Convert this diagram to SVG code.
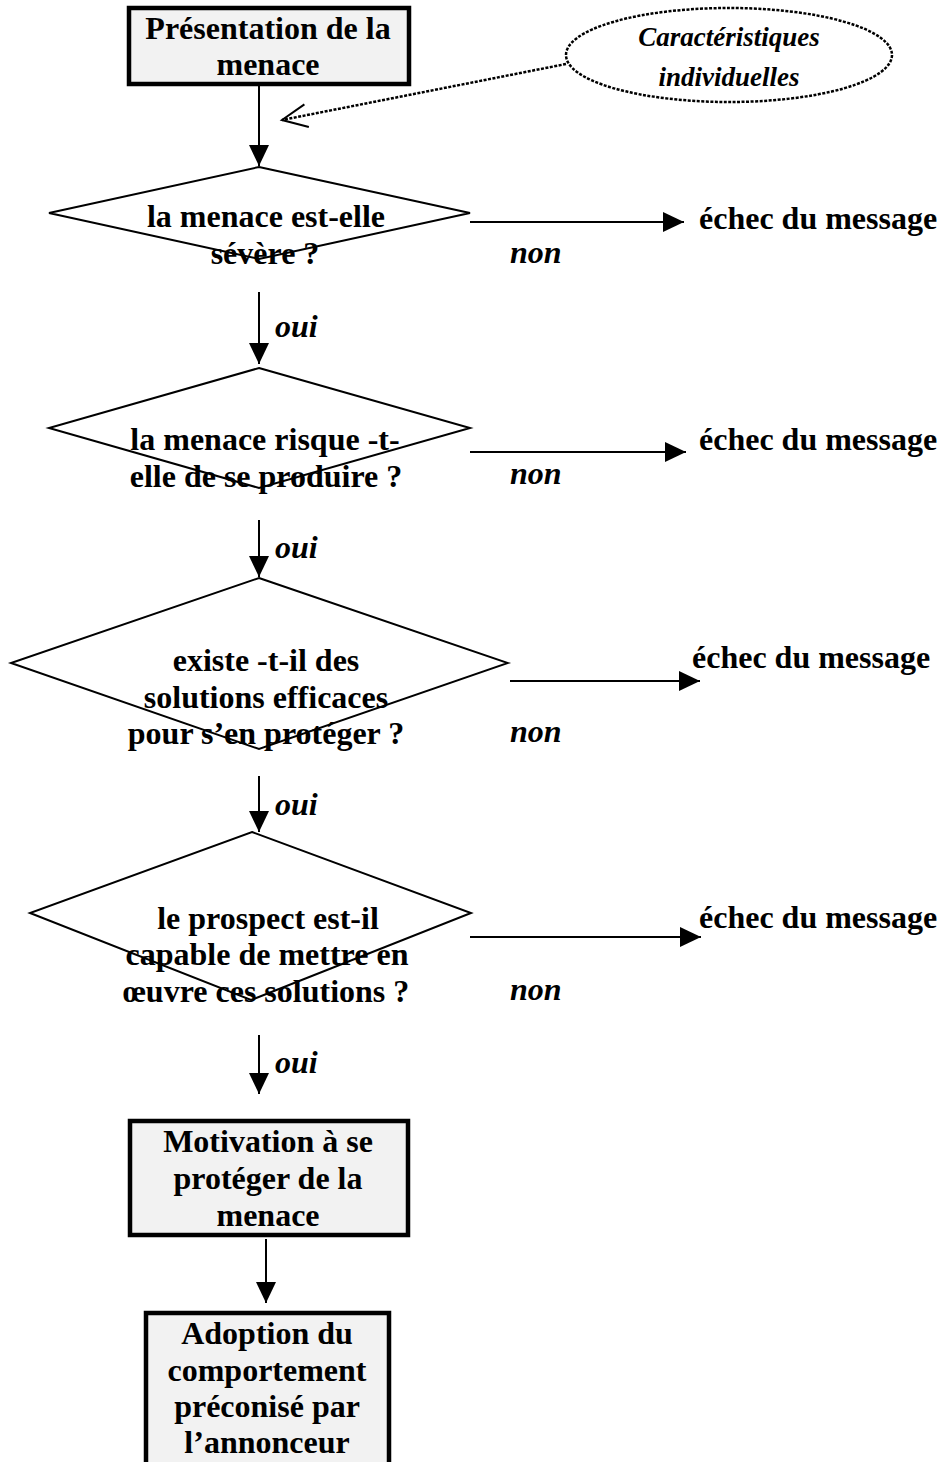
<svg xmlns="http://www.w3.org/2000/svg" width="940" height="1462" viewBox="0 0 940 1462">
<style>
.t{font-family:"Liberation Serif","Times New Roman",serif;font-weight:bold;font-size:32px;fill:#000}
.c{text-anchor:middle}
.i{font-style:italic}
.box{fill:#f2f2f2;stroke:#000;stroke-width:4.5}
.dia{fill:none;stroke:#000;stroke-width:2}
.ln{stroke:#000;stroke-width:2;fill:none}
.dot{stroke:#000;stroke-width:2.5;fill:none;stroke-dasharray:3 1.5}
</style>
<defs>
<marker id="ah" markerUnits="userSpaceOnUse" markerWidth="22" markerHeight="20" refX="21" refY="10" orient="auto" viewBox="0 0 22 20">
<path d="M0,0 L21,10 L0,20 z" fill="#000"/>
</marker>
<marker id="oa" markerUnits="userSpaceOnUse" markerWidth="30" markerHeight="30" refX="0" refY="0" orient="auto" overflow="visible" viewBox="-30 -15 30 30">
<path d="M-25,-12 L0,0 L-25,11" fill="none" stroke="#000" stroke-width="2"/>
</marker>
</defs>

<g id="connectors">
<line class="ln" x1="259" y1="86" x2="259" y2="166" marker-end="url(#ah)"/>
<path class="dot" d="M566,64 L282,120" marker-end="url(#oa)"/>
<line class="ln" x1="470" y1="222" x2="684" y2="222" marker-end="url(#ah)"/>
<line class="ln" x1="259" y1="292" x2="259" y2="364" marker-end="url(#ah)"/>
<line class="ln" x1="470" y1="452" x2="686" y2="452" marker-end="url(#ah)"/>
<line class="ln" x1="259" y1="520" x2="259" y2="577" marker-end="url(#ah)"/>
<line class="ln" x1="510" y1="681" x2="700" y2="681" marker-end="url(#ah)"/>
<line class="ln" x1="259" y1="776" x2="259" y2="832" marker-end="url(#ah)"/>
<line class="ln" x1="470" y1="937" x2="701" y2="937" marker-end="url(#ah)"/>
<line class="ln" x1="259" y1="1035" x2="259" y2="1094" marker-end="url(#ah)"/>
<line class="ln" x1="266" y1="1239" x2="266" y2="1303" marker-end="url(#ah)"/>
<text class="t i" x="510" y="263">non</text>
<text class="t i" x="275" y="337">oui</text>
<text class="t i" x="510" y="484">non</text>
<text class="t i" x="275" y="558">oui</text>
<text class="t i" x="510" y="742">non</text>
<text class="t i" x="275" y="815">oui</text>
<text class="t i" x="510" y="1000">non</text>
<text class="t i" x="275" y="1073">oui</text>
</g>

<g id="presentation">
<rect class="box" x="129" y="8" width="280" height="76"/>
<text class="t c" x="268" y="39">Présentation de la</text>
<text class="t c" x="268" y="75">menace</text>
</g>

<g id="caracteristiques">
<ellipse class="dot" cx="729" cy="55" rx="163" ry="47"/>
<text class="t c i" style="font-size:27px" x="729" y="46">Caractéristiques</text>
<text class="t c i" style="font-size:27px" x="729" y="86">individuelles</text>
</g>

<g id="q1">
<polygon class="dia" points="259,167 470,213 259,259 49,213"/>
<text class="t c" x="266" y="227">la menace est-elle</text>
<text class="t c" x="265" y="264">sévère ?</text>
</g>
<g id="echec1"><text class="t" x="699" y="229">échec du message</text></g>

<g id="q2">
<polygon class="dia" points="259,368 470,428 259,488 49,428"/>
<text class="t c" x="265" y="450">la menace risque -t-</text>
<text class="t c" x="266" y="487">elle de se produire ?</text>
</g>
<g id="echec2"><text class="t" x="699" y="450">échec du message</text></g>

<g id="q3">
<polygon class="dia" points="259,578 508,663 259,749 11,663"/>
<text class="t c" x="266" y="671">existe -t-il des</text>
<text class="t c" x="266" y="708">solutions efficaces</text>
<text class="t c" x="266" y="744">pour s’en protéger ?</text>
</g>
<g id="echec3"><text class="t" x="692" y="668">échec du message</text></g>

<g id="q4">
<polygon class="dia" points="252,832 471,913 251,1000 30,913"/>
<text class="t c" x="268" y="929">le prospect est-il</text>
<text class="t c" x="267" y="965">capable de mettre en</text>
<text class="t c" x="266" y="1002">œuvre ces solutions ?</text>
</g>
<g id="echec4"><text class="t" x="699" y="928">échec du message</text></g>

<g id="motivation">
<rect class="box" x="130" y="1121" width="278" height="114"/>
<text class="t c" x="268" y="1152">Motivation à se</text>
<text class="t c" x="268" y="1189">protéger de la</text>
<text class="t c" x="268" y="1226">menace</text>
</g>

<g id="adoption">
<rect class="box" x="146" y="1313" width="243" height="160"/>
<text class="t c" x="267" y="1344">Adoption du</text>
<text class="t c" x="267" y="1381">comportement</text>
<text class="t c" x="267" y="1417">préconisé par</text>
<text class="t c" x="267" y="1453">l’annonceur</text>
</g>
</svg>
